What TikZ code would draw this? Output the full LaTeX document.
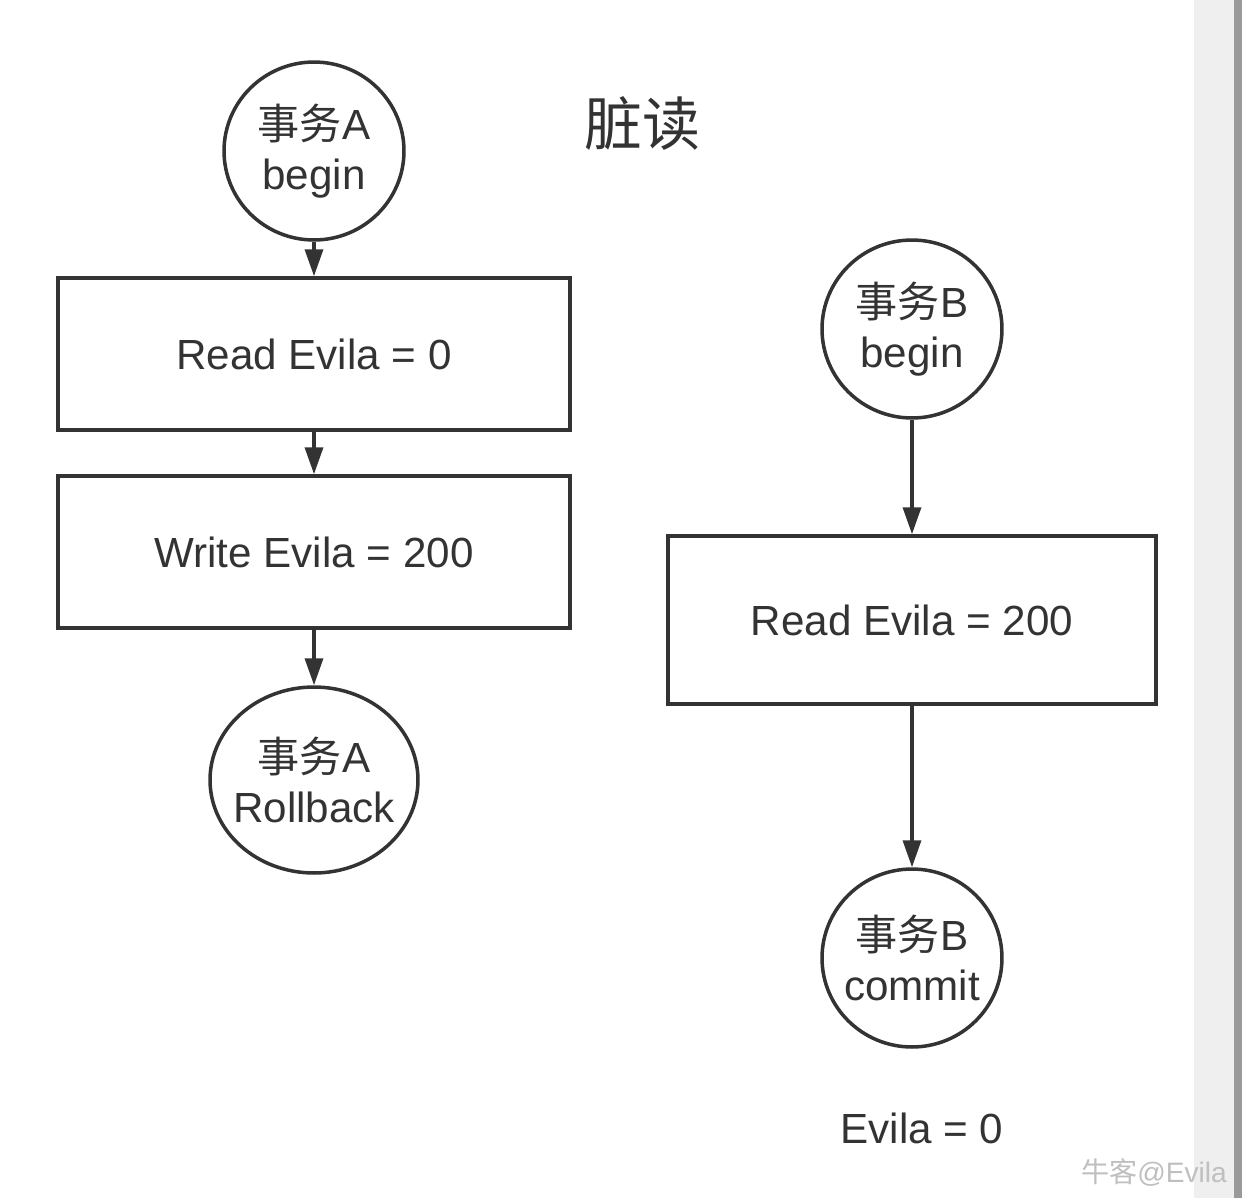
\documentclass[tikz,border=0pt]{standalone}
\usepackage{fontspec}
\setmainfont{Liberation Sans}
\newfontfamily\cjk{Noto Sans CJK SC}
\usepackage{xcolor}
\usetikzlibrary{arrows.meta,positioning,shapes.geometric}

\definecolor{ink}{HTML}{333333}
\definecolor{barlight}{HTML}{EFEFEF}
\definecolor{bardark}{HTML}{9A9A9A}

\begin{document}
\begin{tikzpicture}[x=0.02cm, y=-0.02cm,
    every node/.style={text=ink, font=\fontsize{24}{28.5}\selectfont},
    state/.style={ellipse, draw=ink, line width=2pt, fill=white, inner sep=0pt,
      inner xsep=-0.4cm, minimum width=3.6cm, minimum height=3.56cm, align=center},
    stepbox/.style={rectangle, draw=ink, line width=2pt, inner sep=0pt, align=center},
    flow/.style={draw=ink, line width=2pt, -{Triangle[length=0.54cm, width=0.36cm]}}]
  \useasboundingbox (0,0) rectangle (1242,1198);

  % Scroll bar at the right
  \fill[barlight] (1194,0) rectangle (1234,1198);
  \fill[bardark] (1234,0) rectangle (1242,1198);

  % Title
  \node (title) at (642,123) {\fontsize{33}{40}\selectfont\cjk 脏读};

  % Transaction A
  \node[state] (abegin) at (314,151) {{\cjk 事务}A\\begin};
  \node[stepbox, minimum width=10.24cm, minimum height=3.04cm] (aread) at (314,354) {Read Evila = 0};
  \node[stepbox, minimum width=10.24cm, minimum height=3.04cm] (awrite) at (314,552) {Write Evila = 200};
  \node[state, minimum width=4.16cm, minimum height=3.72cm] (aback) at (314,780) {{\cjk 事务}A\\Rollback};

  \draw[flow] (abegin) -- (aread);
  \draw[flow] (aread) -- (awrite);
  \draw[flow] (awrite) -- (aback);

  % Transaction B
  \node[state] (bbegin) at (912,329) {{\cjk 事务}B\\begin};
  \node[stepbox, minimum width=9.76cm, minimum height=3.36cm] (bread) at (912,620) {Read Evila = 200};
  \node[state] (bcommit) at (912,958) {{\cjk 事务}B\\commit};

  \draw[flow] (bbegin) -- (bread);
  \draw[flow] (bread) -- (bcommit);

  % Final value
  \node (result) at (922,1128) {Evila = 0};

  % Watermark
  \node[text=gray!50, font=\fontsize{16}{20}\selectfont, anchor=east] (mark) at (1233,1172) {{\cjk 牛客}@Evila};
\end{tikzpicture}
\end{document}
